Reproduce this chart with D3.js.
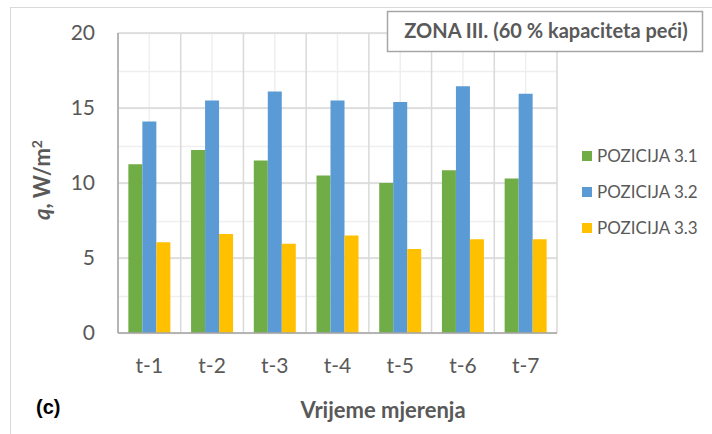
<!DOCTYPE html>
<html>
<head>
<meta charset="utf-8">
<script src="https://cdn.jsdelivr.net/npm/d3@7"></script>
<style>
  body { margin: 0; background: #fff; }
  text { font-family: Lato, "Open Sans", sans-serif; }
</style>
</head>
<body>
<div class="chart"></div>
<script>
// Data
var categories = ["t-1", "t-2", "t-3", "t-4", "t-5", "t-6", "t-7"];
var seriesNames = ["POZICIJA 3.1", "POZICIJA 3.2", "POZICIJA 3.3"];
var pos31 = [11.25, 12.2, 11.5, 10.5, 10.0, 10.85, 10.3];
var pos32 = [14.1, 15.5, 16.1, 15.5, 15.4, 16.45, 15.95];
var pos33 = [6.05, 6.6, 5.95, 6.5, 5.6, 6.25, 6.25];
var yTicks = [0, 5, 10, 15, 20];
var colors = ["#70ad47", "#5b9bd5", "#ffc000"];

var svgWidth = 712;
var svgHeight = 434;
var margin = { top: 33, right: 155, bottom: 101, left: 118 };
var width = svgWidth - margin.left - margin.right;
var height = svgHeight - margin.top - margin.bottom;

var svg = d3.select(".chart")
  .append("svg")
  .attr("width", svgWidth)
  .attr("height", svgHeight);

// outer chart border
svg.append("rect")
  .attr("x", 10.5).attr("y", 7.5)
  .attr("width", 720).attr("height", 440)
  .attr("fill", "none")
  .attr("stroke", "#d9d9d9");

var chart = svg.append("g")
  .attr("transform", "translate(" + margin.left + "," + margin.top + ")");

var xScale = d3.scaleBand().domain(categories).range([0, width]);
var yScale = d3.scaleLinear().domain([0, 20]).range([height, 0]);

var data = categories.map(function(c, i) {
  return { cat: c, values: [pos31[i], pos32[i], pos33[i]] };
});

// minor gridlines
var minorY = d3.range(0, 20.01, 2.5);
chart.selectAll(".minorY")
  .data(minorY)
  .enter().append("line")
  .attr("x1", 0).attr("x2", width)
  .attr("y1", function(d) { return Math.round(yScale(d)) + 0.5; })
  .attr("y2", function(d) { return Math.round(yScale(d)) + 0.5; })
  .attr("stroke", "#efefef").attr("stroke-width", 1.5);

chart.selectAll(".minorX")
  .data(categories)
  .enter().append("line")
  .attr("x1", function(d) { return xScale(d) + xScale.bandwidth() / 2; })
  .attr("x2", function(d) { return xScale(d) + xScale.bandwidth() / 2; })
  .attr("y1", 0).attr("y2", height)
  .attr("stroke", "#efefef").attr("stroke-width", 1.5);

// major gridlines
chart.selectAll(".majorY")
  .data(yTicks)
  .enter().append("line")
  .attr("x1", 0).attr("x2", width)
  .attr("y1", function(d) { return yScale(d); })
  .attr("y2", function(d) { return yScale(d); })
  .attr("stroke", "#d9d9d9").attr("stroke-width", 1.5);

chart.selectAll(".majorX")
  .data(d3.range(categories.length + 1))
  .enter().append("line")
  .attr("x1", function(d) { return d * xScale.step(); })
  .attr("x2", function(d) { return d * xScale.step(); })
  .attr("y1", 0).attr("y2", height)
  .attr("stroke", "#d9d9d9").attr("stroke-width", 1.5);

// bars
var barW = 14;
var groups = chart.selectAll(".group")
  .data(data)
  .enter().append("g")
  .attr("transform", function(d) {
    return "translate(" + (xScale(d.cat) + xScale.bandwidth() / 2 - barW * 1.5) + ",0)";
  });

groups.selectAll("rect")
  .data(function(d) { return d.values; })
  .enter().append("rect")
  .attr("x", function(d, i) { return i * barW; })
  .attr("y", function(d) { return yScale(d); })
  .attr("width", barW)
  .attr("height", function(d) { return height - yScale(d); })
  .attr("fill", function(d, i) { return colors[i]; });

// axes lines
chart.append("line")
  .attr("x1", 0).attr("x2", 0)
  .attr("y1", 0).attr("y2", height)
  .attr("stroke", "#a6a6a6").attr("stroke-width", 1.5);
chart.append("line")
  .attr("x1", 0).attr("x2", width)
  .attr("y1", height).attr("y2", height)
  .attr("stroke", "#a6a6a6").attr("stroke-width", 1.5);

// tick labels
chart.selectAll(".ylab")
  .data(yTicks)
  .enter().append("text")
  .attr("x", -23)
  .attr("y", function(d) { return yScale(d); })
  .attr("dy", "0.35em")
  .attr("text-anchor", "end")
  .attr("font-size", "21px")
  .attr("fill", "#595959")
  .text(function(d) { return d; });

chart.selectAll(".xlab")
  .data(categories)
  .enter().append("text")
  .attr("x", function(d) { return xScale(d) + xScale.bandwidth() / 2; })
  .attr("y", height + 33)
  .attr("dy", "0.35em")
  .attr("text-anchor", "middle")
  .attr("font-size", "21px")
  .attr("fill", "#595959")
  .text(function(d) { return d; });

// axis titles
var yTitle = svg.append("text")
  .attr("transform", "translate(50,180) rotate(-90)")
  .attr("text-anchor", "middle")
  .attr("font-size", "22px")
  .attr("font-weight", "bold")
  .attr("fill", "#595959");
yTitle.append("tspan").attr("font-style", "italic").text("q");
yTitle.append("tspan").text(", W/m");
yTitle.append("tspan").attr("font-size", "14px").attr("dy", "-8").text("2");

svg.append("text")
  .attr("x", 383).attr("y", 410)
  .attr("dy", "0.35em")
  .attr("text-anchor", "middle")
  .attr("font-size", "22px")
  .attr("font-weight", "bold")
  .attr("fill", "#595959")
  .text("Vrijeme mjerenja");

svg.append("text")
  .attr("x", 36).attr("y", 407)
  .attr("dy", "0.35em")
  .style("font-family", "'Liberation Sans', Arial, sans-serif")
  .attr("font-size", "20px")
  .attr("font-weight", "bold")
  .attr("fill", "#000")
  .text("(c)");

// title box
svg.append("rect")
  .attr("x", 387.5).attr("y", 11.5)
  .attr("width", 315).attr("height", 40)
  .attr("fill", "#fff")
  .attr("stroke", "#a6a6a6").attr("stroke-width", 1.5);
svg.append("text")
  .attr("x", 546).attr("y", 31)
  .attr("dy", "0.35em")
  .attr("text-anchor", "middle")
  .attr("font-size", "20px")
  .attr("font-weight", "bold")
  .attr("fill", "#595959")
  .text("ZONA III. (60 % kapaciteta peći)");

// legend
var legend = svg.selectAll(".legend")
  .data(seriesNames)
  .enter().append("g")
  .attr("transform", function(d, i) { return "translate(582," + (156 + i * 36) + ")"; });
legend.append("rect")
  .attr("x", 0).attr("y", -5)
  .attr("width", 10).attr("height", 10)
  .attr("fill", function(d, i) { return colors[i]; });
legend.append("text")
  .attr("x", 15).attr("y", 0)
  .attr("dy", "0.35em")
  .attr("font-size", "17px")
  .attr("fill", "#595959")
  .text(function(d) { return d; });
</script>
</body>
</html>
